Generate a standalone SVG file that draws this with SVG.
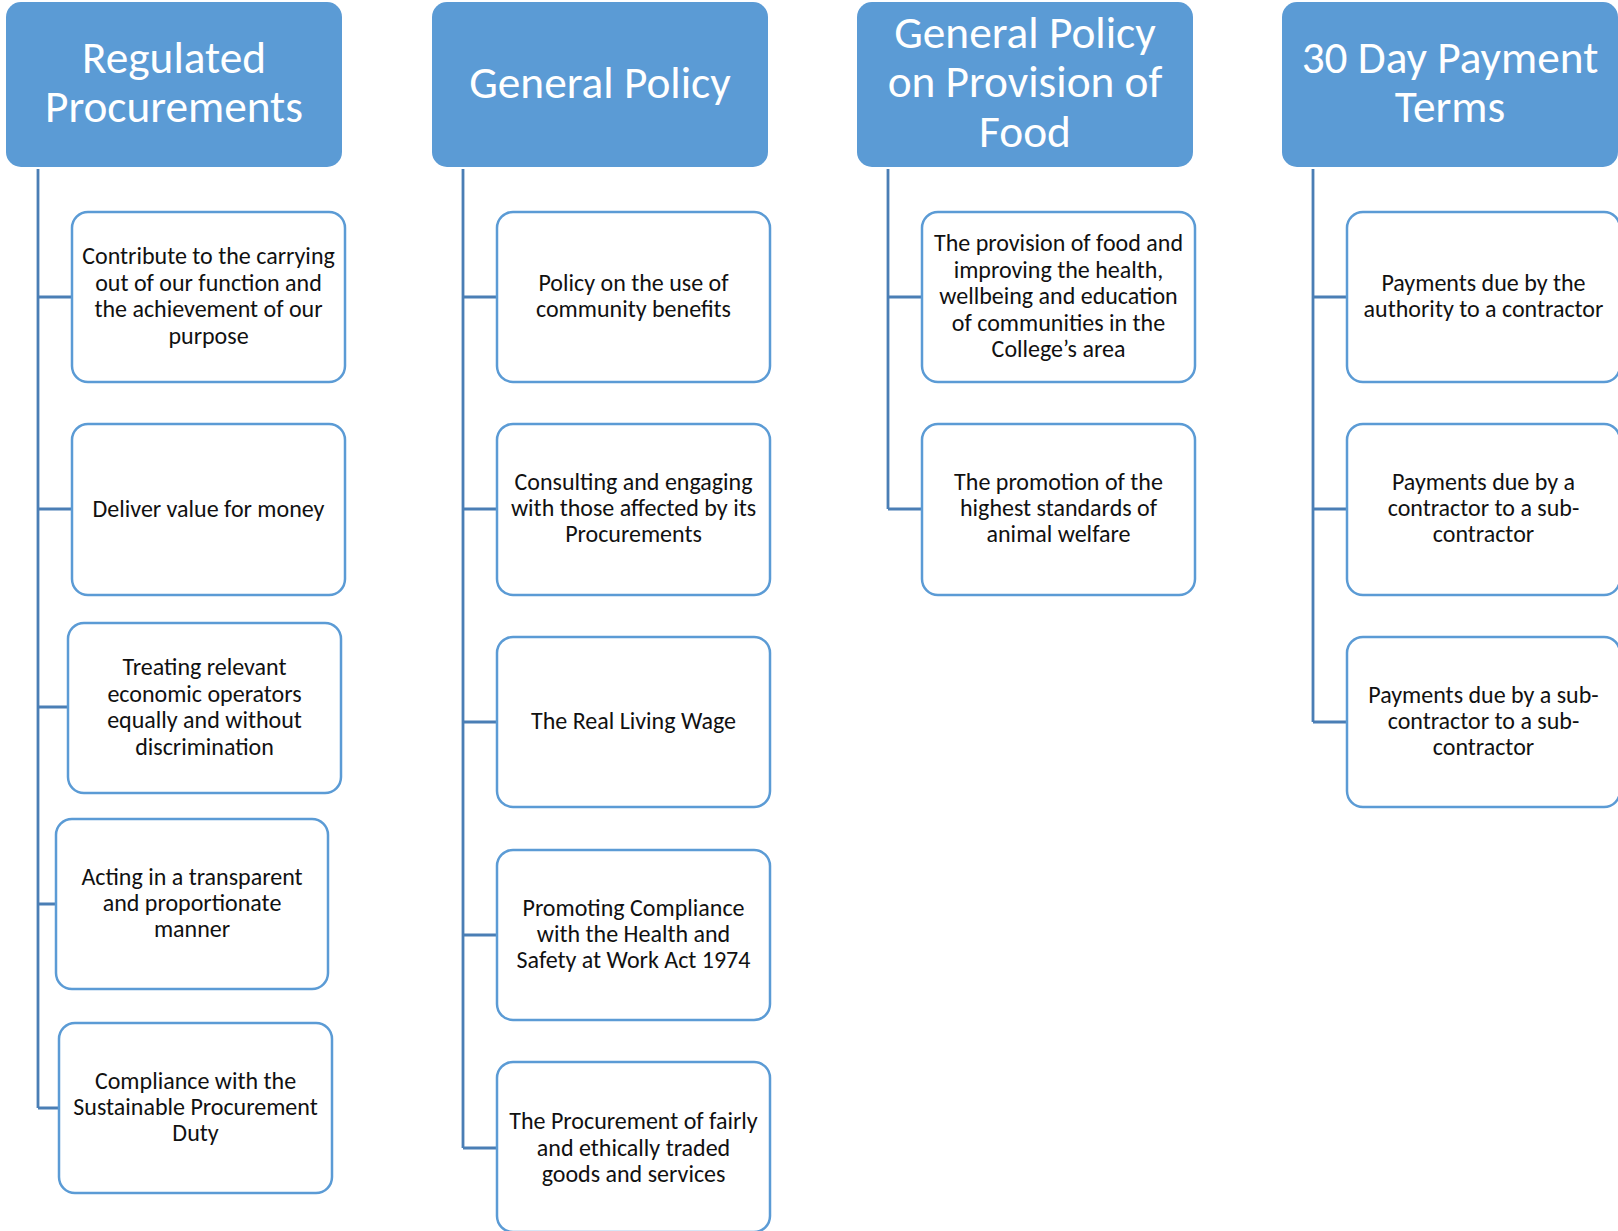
<svg xmlns="http://www.w3.org/2000/svg" width="1618" height="1231" viewBox="0 0 1618 1231">
<style>
.hdr{fill:#5b9bd5;}
.ht{fill:#ffffff;font-family:Carlito,Lato,"Liberation Sans",sans-serif;font-size:45.3px;text-anchor:middle;}
.box{fill:#ffffff;stroke:#5b9bd5;stroke-width:2.5;}
.bt{fill:#111111;font-family:Carlito,Lato,"Liberation Sans",sans-serif;font-size:24px;text-anchor:middle;}
.con{fill:none;stroke:#4a7eb5;stroke-width:2.8;}
</style>
<rect width="1618" height="1231" fill="#ffffff"/>
<g id="connectors">
<path class="con" d="M38,169 V1108 M38,297 H72 M38,509 H72 M38,707 H68 M38,904 H56 M38,1108 H59"/>
<path class="con" d="M463,169 V1148 M463,297 H497 M463,509 H497 M463,722 H497 M463,935 H497 M463,1148 H497"/>
<path class="con" d="M888,169 V509 M888,297 H922 M888,509 H922"/>
<path class="con" d="M1313,169 V722 M1313,297 H1347 M1313,509 H1347 M1313,722 H1347"/>
</g>
<g id="h1"><rect class="hdr" x="6" y="2" width="336" height="165" rx="15"/>
<text class="ht" x="174"><tspan x="174" y="73">Regulated</tspan><tspan x="174" y="122">Procurements</tspan></text></g>
<g id="h2"><rect class="hdr" x="432" y="2" width="336" height="165" rx="15"/>
<text class="ht" x="600" y="98">General Policy</text></g>
<g id="h3"><rect class="hdr" x="857" y="2" width="336" height="165" rx="15"/>
<text class="ht"><tspan x="1025" y="48">General Policy</tspan><tspan x="1025" y="97">on Provision of</tspan><tspan x="1025" y="147">Food</tspan></text></g>
<g id="h4"><rect class="hdr" x="1282" y="2" width="336" height="165" rx="15"/>
<text class="ht"><tspan x="1450" y="73">30 Day Payment</tspan><tspan x="1450" y="122">Terms</tspan></text></g>

<g id="c1b1"><rect class="box" x="72" y="212" width="273" height="170" rx="16"/>
<text class="bt"><tspan x="208.5" y="264">Contribute to the carrying</tspan><tspan x="208.5" y="290.5">out of our function and</tspan><tspan x="208.5" y="317">the achievement of our</tspan><tspan x="208.5" y="343.5">purpose</tspan></text></g>
<g id="c1b2"><rect class="box" x="72" y="424" width="273" height="171" rx="16"/>
<text class="bt"><tspan x="208.5" y="517">Deliver value for money</tspan></text></g>
<g id="c1b3"><rect class="box" x="68" y="623" width="273" height="170" rx="16"/>
<text class="bt"><tspan x="204.5" y="675">Treating relevant</tspan><tspan x="204.5" y="701.5">economic operators</tspan><tspan x="204.5" y="728">equally and without</tspan><tspan x="204.5" y="754.5">discrimination</tspan></text></g>
<g id="c1b4"><rect class="box" x="56" y="819" width="272" height="170" rx="16"/>
<text class="bt"><tspan x="192" y="885">Acting in a transparent</tspan><tspan x="192" y="911">and proportionate</tspan><tspan x="192" y="937">manner</tspan></text></g>
<g id="c1b5"><rect class="box" x="59" y="1023" width="273" height="170" rx="16"/>
<text class="bt"><tspan x="195.5" y="1089">Compliance with the</tspan><tspan x="195.5" y="1115">Sustainable Procurement</tspan><tspan x="195.5" y="1141">Duty</tspan></text></g>

<g id="c2b1"><rect class="box" x="497" y="212" width="273" height="170" rx="16"/>
<text class="bt"><tspan x="633.5" y="291">Policy on the use of</tspan><tspan x="633.5" y="317">community benefits</tspan></text></g>
<g id="c2b2"><rect class="box" x="497" y="424" width="273" height="171" rx="16"/>
<text class="bt"><tspan x="633.5" y="490">Consulting and engaging</tspan><tspan x="633.5" y="516">with those affected by its</tspan><tspan x="633.5" y="542">Procurements</tspan></text></g>
<g id="c2b3"><rect class="box" x="497" y="637" width="273" height="170" rx="16"/>
<text class="bt"><tspan x="633.5" y="729">The Real Living Wage</tspan></text></g>
<g id="c2b4"><rect class="box" x="497" y="850" width="273" height="170" rx="16"/>
<text class="bt"><tspan x="633.5" y="916">Promoting Compliance</tspan><tspan x="633.5" y="942">with the Health and</tspan><tspan x="633.5" y="968">Safety at Work Act 1974</tspan></text></g>
<g id="c2b5"><rect class="box" x="497" y="1062" width="273" height="170" rx="16"/>
<text class="bt"><tspan x="633.5" y="1129">The Procurement of fairly</tspan><tspan x="633.5" y="1156">and ethically traded</tspan><tspan x="633.5" y="1182">goods and services</tspan></text></g>

<g id="c3b1"><rect class="box" x="922" y="212" width="273" height="170" rx="16"/>
<text class="bt"><tspan x="1058.5" y="251">The provision of food and</tspan><tspan x="1058.5" y="277.5">improving the health,</tspan><tspan x="1058.5" y="304">wellbeing and education</tspan><tspan x="1058.5" y="330.5">of communities in the</tspan><tspan x="1058.5" y="357">College’s area</tspan></text></g>
<g id="c3b2"><rect class="box" x="922" y="424" width="273" height="171" rx="16"/>
<text class="bt"><tspan x="1058.5" y="490">The promotion of the</tspan><tspan x="1058.5" y="516">highest standards of</tspan><tspan x="1058.5" y="542">animal welfare</tspan></text></g>

<g id="c4b1"><rect class="box" x="1347" y="212" width="273" height="170" rx="16"/>
<text class="bt"><tspan x="1483.5" y="291">Payments due by the</tspan><tspan x="1483.5" y="317">authority to a contractor</tspan></text></g>
<g id="c4b2"><rect class="box" x="1347" y="424" width="273" height="171" rx="16"/>
<text class="bt"><tspan x="1483.5" y="490">Payments due by a</tspan><tspan x="1483.5" y="516">contractor to a sub-</tspan><tspan x="1483.5" y="542">contractor</tspan></text></g>
<g id="c4b3"><rect class="box" x="1347" y="637" width="273" height="170" rx="16"/>
<text class="bt"><tspan x="1483.5" y="703">Payments due by a sub-</tspan><tspan x="1483.5" y="729">contractor to a sub-</tspan><tspan x="1483.5" y="755">contractor</tspan></text></g>
</svg>
